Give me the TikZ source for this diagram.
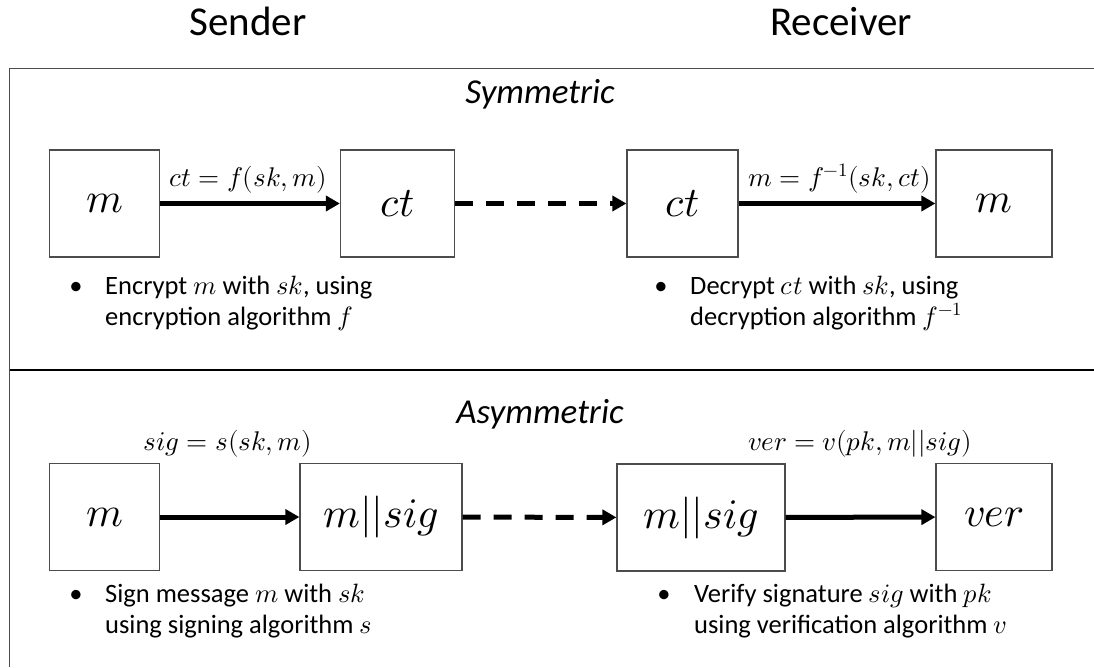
\documentclass[tikz,border=0pt]{standalone}
\usepackage{fontspec}
\usepackage{unicode-math}
\setmainfont{Carlito}
\usetikzlibrary{arrows.meta}
\begin{document}
\begin{tikzpicture}[x=1pt,y=-1pt,
  box/.style={draw=black!70, line width=1.2pt, inner sep=0pt, minimum height=107pt, font=\fontsize{42}{50}\selectfont},
  arr/.style={line width=5pt, -{Triangle[length=14pt,width=15pt]}},
  darr/.style={arr, dash pattern=on 18pt off 13pt},
  lbl/.style={font=\fontsize{27}{32}\selectfont, inner sep=0pt, anchor=base},
  head/.style={font=\fontsize{41}{48}\selectfont, inner sep=0pt, anchor=base},
  ttl/.style={font=\fontsize{35}{42}\selectfont\itshape, inner sep=0pt, anchor=base},
  txt/.style={font=\fontsize{26.5}{31}\selectfont, inner sep=0pt, anchor=base west},
  bul/.style={font=\fontsize{26.5}{31}\selectfont, inner sep=0pt, anchor=base}
]
\useasboundingbox (0,0) rectangle (1094,667);
% headers
\node[head] (sender) at (248,35) {Sender};
\node[head] (receiver) at (841,35) {Receiver};
% frame
\coordinate (ftr) at (1094,68.5);
\coordinate (ftl) at (9.5,68.5);
\coordinate (fbl) at (9.5,667);
\draw[black!70, line width=1.5pt] (ftr) -- (ftl) -- (fbl);
\coordinate (dl) at (9.5,370);
\coordinate (dr) at (1094,370);
\draw[black, line width=2pt] (dl) -- (dr);
% titles
\node[ttl] (sym) at (540,103) {Symmetric};
\node[ttl] (asym) at (540,423) {Asymmetric};
% symmetric row
\node[box, minimum width=110pt] (m1) at (104.5,203.5) {$m$};
\node[box, minimum width=114pt] (ct1) at (397.5,203.5) {$ct$};
\node[box, minimum width=111pt] (ct2) at (682.5,203.5) {$ct$};
\node[box, minimum width=116pt] (m2) at (994,203.5) {$m$};
\draw[arr] (m1) -- (ct1);
\draw[darr] (ct1) -- (ct2);
\draw[arr] (ct2) -- (m2);
\node[lbl] (l1) at (248,186) {$ct=f(sk,m)$};
\node[lbl] (l2) at (839.5,186) {$m=f^{-1}(sk,ct)$};
\node[bul] (b1) at (76,294) {•};
\node[txt] (t1a) at (105,294) {Encrypt $m$ with $sk$, using};
\node[txt] (t1b) at (105,325) {encryption algorithm $f$};
\node[bul] (b2) at (661,294) {•};
\node[txt] (t2a) at (690,294) {Decrypt $ct$ with $sk$, using};
\node[txt] (t2b) at (690,325) {decryption algorithm $f^{-1}$};
% asymmetric row
\node[box, minimum width=110pt] (m3) at (104.5,517) {$m$};
\node[box, minimum width=162pt] (ms1) at (381,517) {$m||sig$};
\node[box, minimum width=168pt] (ms2) at (701,517.5) {$m||sig$};
\node[box, minimum width=116pt] (ver) at (994,517) {$ver$};
\draw[arr] (m3) -- (ms1);
\draw[darr] (ms1) -- (ms2);
\draw[arr] (ms2) -- (ver);
\node[lbl] (l3) at (228,450) {$sig=s(sk,m)$};
\node[lbl] (l4) at (860,450) {$ver=v(pk,m||sig)$};
\node[bul] (b3) at (76,602) {•};
\node[txt] (t3a) at (105,602) {Sign message $m$ with $sk$};
\node[txt] (t3b) at (105,633) {using signing algorithm $s$};
\node[bul] (b4) at (664,602) {•};
\node[txt] (t4a) at (694,602) {Verify signature $sig$ with $pk$};
\node[txt] (t4b) at (694,633) {using verification algorithm $v$};
\end{tikzpicture}
\end{document}
